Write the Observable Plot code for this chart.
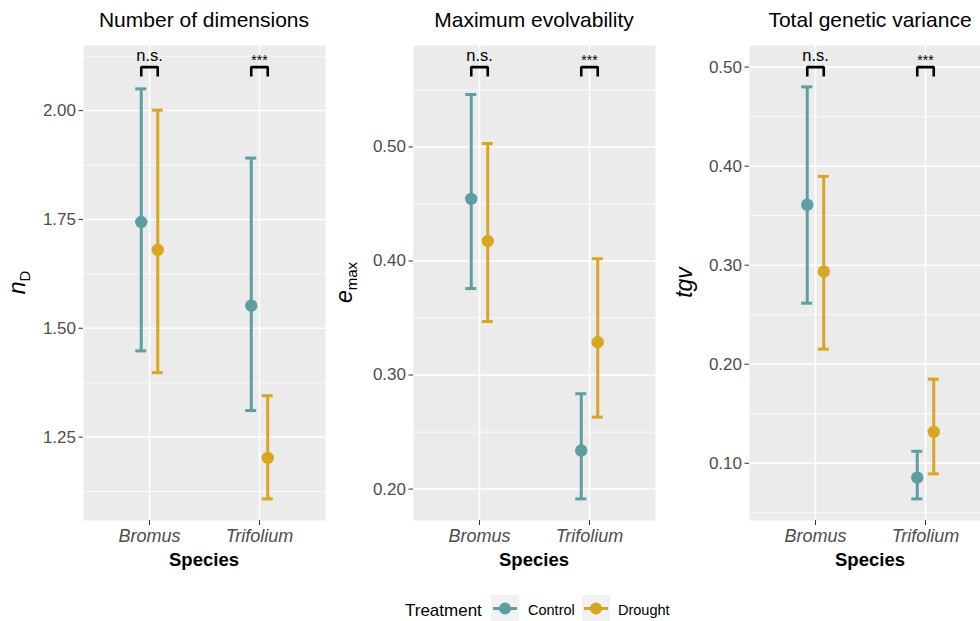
<!DOCTYPE html>
<html><head><meta charset="utf-8">
<script src="https://cdn.jsdelivr.net/npm/d3@7"></script>
<script src="https://cdn.jsdelivr.net/npm/@observablehq/plot@0.6"></script>
<style>
html,body{margin:0;padding:0;background:#fff;}
#wrap{position:relative;width:980px;height:621px;overflow:hidden;font-family:"Liberation Sans",Arial,Helvetica,sans-serif;}
.panel{position:absolute;top:0;}
#legend{position:absolute;left:0;top:580px;}
</style></head><body><div id="wrap"></div>
<script>
// ---- data ----
const species = ["Bromus", "Trifolium"];
const treatments = ["Control", "Drought"];
const colors = ["#5F9EA0", "#DAA520"];
const sigLabels = ["n.s.", "***"];

// order: Bromus-Control, Bromus-Drought, Trifolium-Control, Trifolium-Drought
const nD_mean = [1.744, 1.680, 1.552, 1.202];
const nD_lo   = [1.448, 1.398, 1.311, 1.108];
const nD_hi   = [2.050, 2.001, 1.891, 1.345];
const nD_ticks = [1.25, 1.50, 1.75, 2.00];
const nD_minor = [1.125, 1.375, 1.625, 1.875, 2.125];
const nD_bracket = 2.10;

const emax_mean = [0.4545, 0.4175, 0.2338, 0.3288];
const emax_lo   = [0.3758, 0.3469, 0.1914, 0.2631];
const emax_hi   = [0.5460, 0.5030, 0.2836, 0.4020];
const emax_ticks = [0.20, 0.30, 0.40, 0.50];
const emax_minor = [0.25, 0.35, 0.45, 0.55];
const emax_bracket = 0.57;

const tgv_mean = [0.361, 0.2936, 0.0855, 0.1317];
const tgv_lo   = [0.2616, 0.2152, 0.0640, 0.0893];
const tgv_hi   = [0.4800, 0.3896, 0.1121, 0.1849];
const tgv_ticks = [0.10, 0.20, 0.30, 0.40, 0.50];
const tgv_minor = [0.05, 0.15, 0.25, 0.35, 0.45];
const tgv_bracket = 0.50;

const panels = [
  {title: "Number of dimensions", sym: "n", sub: "D", left: 0, ml: 83, ytx: 25,
   mean: nD_mean, lo: nD_lo, hi: nD_hi, ticks: nD_ticks, minor: nD_minor, bracket: nD_bracket},
  {title: "Maximum evolvability", sym: "e", sub: "max", left: 330, ml: 83, ytx: 22,
   mean: emax_mean, lo: emax_lo, hi: emax_hi, ticks: emax_ticks, minor: emax_minor, bracket: emax_bracket},
  {title: "Total genetic variance", sym: "tgv", sub: "", left: 660, ml: 89, ytx: 32,
   mean: tgv_mean, lo: tgv_lo, hi: tgv_hi, ticks: tgv_ticks, minor: tgv_minor, bracket: tgv_bracket}
];

const FONT = '"Liberation Sans", Arial, Helvetica, sans-serif';
const dodge = 0.075, capHalf = 0.05, plotW = 242;

function makePanel(cfg) {
  const rows = [];
  species.forEach((s, i) => treatments.forEach((t, j) => {
    const k = i * 2 + j;
    rows.push({species: s, treatment: t, x: (i + 1) + (j === 0 ? -dodge : dodge),
               mean: cfg.mean[k], lo: cfg.lo[k], hi: cfg.hi[k]});
  }));
  const ymin = d3.min(cfg.lo), ymax = Math.max(d3.max(cfg.hi), cfg.bracket);
  const pad = (ymax - ymin) * 0.05;
  const domain = [ymin - pad, ymax + pad];
  const tip = (domain[1] - domain[0]) * 0.02;
  const bracketPts = [];
  const sig = [];
  species.forEach((s, i) => {
    const x1 = i + 1 - dodge, x2 = i + 1 + dodge;
    bracketPts.push({species: s, x: x1, y: cfg.bracket - tip},
                    {species: s, x: x1, y: cfg.bracket},
                    {species: s, x: x2, y: cfg.bracket},
                    {species: s, x: x2, y: cfg.bracket - tip});
    sig.push({x: i + 1, y: cfg.bracket, label: sigLabels[i]});
  });
  const svg = Plot.plot({
    width: cfg.ml + plotW + 10, height: 580,
    marginLeft: cfg.ml, marginRight: 10, marginTop: 45, marginBottom: 60,
    x: {domain: [0.4, 2.6], axis: null},
    y: {domain, axis: null},
    color: {domain: treatments, range: colors},
    style: {fontFamily: FONT, background: "transparent", overflow: "visible"},
    marks: [
      Plot.frame({fill: "#EBEBEB", stroke: null}),
      Plot.ruleY(cfg.minor, {stroke: "white", strokeWidth: 0.75}),
      Plot.ruleY(cfg.ticks, {stroke: "white", strokeWidth: 1.5}),
      Plot.ruleX([1, 2], {stroke: "white", strokeWidth: 1.5}),
      Plot.axisY(cfg.ticks, {tickFormat: d3.format(".2f"), tickSize: 4.5, tickPadding: 3,
        fontSize: 17, fill: "#4D4D4D", stroke: "#333333", label: null}),
      Plot.axisX([1, 2], {tickFormat: d => species[d - 1], tickSize: 5, tickPadding: 4,
        fontSize: 18, fontStyle: "italic", fill: "#4D4D4D", stroke: "#333333", label: null}),
      Plot.ruleX(rows, {x: "x", y1: "lo", y2: "hi", stroke: "treatment", strokeWidth: 3}),
      Plot.ruleY(rows, {y: "hi", x1: d => d.x - capHalf, x2: d => d.x + capHalf, stroke: "treatment", strokeWidth: 3}),
      Plot.ruleY(rows, {y: "lo", x1: d => d.x - capHalf, x2: d => d.x + capHalf, stroke: "treatment", strokeWidth: 3}),
      Plot.dot(rows, {x: "x", y: "mean", fill: "treatment", r: 6.2, stroke: null}),
      Plot.line(bracketPts, {x: "x", y: "y", z: "species", stroke: "black", strokeWidth: 2.6, strokeLinejoin: "miter", strokeLinecap: "butt"}),
      Plot.text(sig.filter(d => d.label === "n.s."), {x: "x", y: "y", text: "label", dy: -11, fontSize: 16.5, fill: "black"}),
      Plot.text(sig.filter(d => d.label !== "n.s."), {x: "x", y: "y", text: "label", dy: -7, fontSize: 14, fill: "black"})
    ]
  });
  const s = d3.select(svg);
  const cx = cfg.ml + plotW / 2;
  s.append("text").attr("x", cx).attr("y", 27).attr("text-anchor", "middle")
    .attr("font-size", 21).attr("fill", "black").attr("font-family", FONT).text(cfg.title);
  s.append("text").attr("x", cx).attr("y", 566).attr("text-anchor", "middle")
    .attr("font-size", 18.5).attr("font-weight", "bold").attr("fill", "black").attr("font-family", FONT).text("Species");
  const yt = s.append("text").attr("transform", `translate(${cfg.ytx},282.5) rotate(-90)`)
    .attr("text-anchor", "middle").attr("fill", "black").attr("font-family", FONT);
  yt.append("tspan").attr("font-size", 23).attr("font-style", "italic").text(cfg.sym);
  if (cfg.sub) yt.append("tspan").attr("font-size", 15).attr("dy", "0.3em").text(cfg.sub);
  svg.classList.add("panel");
  svg.style.left = cfg.left + "px";
  return svg;
}

const wrap = document.getElementById("wrap");
panels.forEach(p => wrap.appendChild(makePanel(p)));

// legend
const lg = d3.select(wrap).append("svg").attr("id", "legend").attr("width", 980).attr("height", 41);
lg.append("text").attr("x", 405).attr("y", 35.5).attr("font-size", 17).attr("font-family", FONT)
  .attr("fill", "black").text("Treatment");
const keyX = [491, 582], labX = [528, 618];
treatments.forEach((t, i) => {
  const g = lg.append("g").attr("transform", `translate(${keyX[i]},15)`);
  g.append("rect").attr("width", 28).attr("height", 27).attr("fill", "#F2F2F2");
  g.append("line").attr("x1", 2).attr("x2", 26).attr("y1", 13.5).attr("y2", 13.5)
    .attr("stroke", colors[i]).attr("stroke-width", 3);
  g.append("circle").attr("cx", 14).attr("cy", 13.5).attr("r", 6).attr("fill", colors[i]);
  lg.append("text").attr("x", labX[i]).attr("y", 34.5).attr("font-size", 14.5).attr("font-family", FONT)
    .attr("fill", "black").text(t);
});
</script></body></html>
